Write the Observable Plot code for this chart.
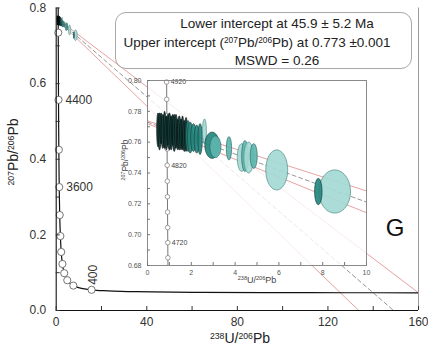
<!DOCTYPE html>
<html><head><meta charset="utf-8">
<script src="https://cdn.jsdelivr.net/npm/d3@7"></script>
<script src="https://cdn.jsdelivr.net/npm/@observablehq/plot@0.6"></script>
<style>
body{margin:0;background:#fff;}
#wrap{position:relative;width:428px;height:354px;font-family:"Liberation Sans",Arial,sans-serif;overflow:hidden;background:#fff;}
#wrap svg{position:absolute;overflow:visible;}
.lbl{position:absolute;white-space:nowrap;color:#222;line-height:1;}
.lbl sup{font-size:0.62em;vertical-align:0.5em;line-height:0;}
#box{position:absolute;left:115px;top:12px;width:297px;height:57px;border:1px solid #a8a8a8;border-radius:11px;box-sizing:border-box;}
</style></head><body><div id="wrap"></div>
<script>
// ---- Concordia (Tera-Wasserburg) points ----
const concordiaAge = [4950,4800,4600,4400,4200,4000,3800,3600,3200,3000,2800,2600,2400,2200,2000,1800,1600,1400,1200,1000,800,600,400,300,200,150,100,70,50,40];
const concordiaX = [0.866,0.9045,0.9604,1.0216,1.0888,1.1629,1.2453,1.3369,1.5557,1.6874,1.8383,2.0144,2.2168,2.4587,2.7491,3.1043,3.5497,4.1225,4.888,5.9588,7.568,10.252,15.62,20.99,31.73,42.48,63.97,91.59,128.43,160.66];
const concordiaY = [0.8161,0.7347,0.6393,0.5571,0.4863,0.4250,0.3721,0.3264,0.2524,0.2227,0.1968,0.1744,0.1548,0.1378,0.1230,0.1100,0.0987,0.0888,0.0801,0.0725,0.0658,0.0599,0.0547,0.0523,0.0501,0.0491,0.0480,0.0474,0.0470,0.0468];
const mainMarkerAges = [4800,4400,4000,3600,3200,2800,2400,2000,1600,1200,800,400];
const mainLabelAges = [4400,3600];
const mainRotLabelAges = [400];

// ---- Inset concordia segment ----
const insetAge = [4690,4700,4720,4740,4760,4780,4800,4820,4840,4860,4880,4900,4920,4950];
const insetCX = [0.9346,0.9318,0.9263,0.9207,0.9152,0.9098,0.9045,0.8992,0.8939,0.8888,0.8836,0.8783,0.8733,0.8657];
const insetCY = [0.6801,0.6850,0.6948,0.7046,0.7146,0.7246,0.7347,0.7450,0.7556,0.7663,0.7771,0.7878,0.7990,0.8161];
const insetMarkerAges = [4700,4720,4740,4760,4780,4800,4820,4840,4860,4880,4900,4920];
const insetLabelAges = [4920,4820,4720];

// ---- Analyses: error ellipses (centre, half-width, half-height, tone 0 dark .. 3 pale) ----
const ellX  = [0.48,0.55,0.62,0.70,0.78,0.86,0.93,1.00,1.08,1.15,1.22,1.30,1.38,1.45,1.53,1.60,1.68,1.76,1.85,1.95,2.10,2.25,2.40,2.60,2.95,3.10,3.72,4.30,4.45,4.62,4.85,5.90,8.55,7.80];
const ellY  = [0.768,0.767,0.769,0.767,0.768,0.766,0.768,0.767,0.766,0.768,0.766,0.767,0.765,0.766,0.765,0.766,0.764,0.765,0.764,0.763,0.763,0.762,0.762,0.767,0.758,0.757,0.756,0.750,0.751,0.750,0.751,0.742,0.728,0.728];
const ellRX = [0.06,0.07,0.06,0.08,0.06,0.07,0.06,0.08,0.07,0.06,0.08,0.07,0.06,0.08,0.07,0.06,0.08,0.07,0.10,0.12,0.13,0.12,0.10,0.09,0.33,0.25,0.12,0.20,0.15,0.22,0.16,0.50,0.72,0.17];
const ellRY = [0.011,0.012,0.010,0.011,0.012,0.011,0.010,0.012,0.011,0.010,0.012,0.011,0.010,0.011,0.010,0.011,0.010,0.011,0.010,0.010,0.009,0.009,0.010,0.008,0.0085,0.007,0.0075,0.009,0.010,0.010,0.008,0.013,0.014,0.0085];
const ellTone = [0,0,0,0,0,0,0,0,0,0,0,0,0,0,0,0,0,0,1,1,1,1,1,3,1,2,2,3,2,3,2,3,3,1];
const toneFill = ["#123f3b","#24877f","#5db6ae","#a4d9d4"];
const toneStroke = ["#050f0e","#173f3c","#2b6a65","#4f8c87"];

// ---- Discordia regression line and its error envelope ----
const discX = [0,149];      const discY = [0.773,0];
const envLowX = [0,133.6];  const envLowY = [0.772,0];
const envUpX = [0,160];     const envUpY = [0.7738,0.0468];

// ---- Axis ticks ----
const mainXTicks = [0,40,80,120,160];
const mainXMinor = [0,20,40,60,80,100,120,140,160];
const mainYTicks = [0,0.2,0.4,0.6,0.8];
const mainYMinor = [0,0.1,0.2,0.3,0.4,0.5,0.6,0.7,0.8];
const insetXTicks = [0,2,4,6,8,10];
const insetXMinor = [0,1,2,3,4,5,6,7,8,9,10];
const insetYTicks = [0.68,0.70,0.72,0.74,0.76,0.78,0.80];
const insetYMinor = [0.68,0.69,0.70,0.71,0.72,0.73,0.74,0.75,0.76,0.77,0.78,0.79,0.80];

// ---- derived tables ----
const conc = concordiaAge.map((a,i)=>({age:a,x:concordiaX[i],y:concordiaY[i]}));
const insetConc = insetAge.map((a,i)=>({age:a,x:insetCX[i],y:insetCY[i]}));
const ellPts = [];
ellX.forEach((cx,i)=>{
  for(let k=0;k<48;k++){
    const t = 2*Math.PI*k/48;
    ellPts.push({id:i, x:cx+ellRX[i]*Math.cos(t), y:ellY[i]+ellRY[i]*Math.sin(t),
      fill:toneFill[ellTone[i]], stroke:toneStroke[ellTone[i]]});
  }
});
const toPts = (xs,ys,id)=>xs.map((x,i)=>({id,x,y:ys[i]}));
const redLines = [...toPts(envLowX,envLowY,"low"),...toPts(envUpX,envUpY,"up")];
const dashLine = toPts(discX,discY,"c");

function discordiaMarks(){
  return [
    Plot.line(redLines,{x:"x",y:"y",z:"id",stroke:"#e08a8a",strokeWidth:0.8,clip:true}),
    Plot.line(dashLine,{x:"x",y:"y",stroke:"#8a8a8a",strokeWidth:0.9,strokeDasharray:"4,3",clip:true})
  ];
}
function ellipseMarks(sw){
  return Plot.line(ellPts,{x:"x",y:"y",z:"id",fill:"fill",stroke:"stroke",strokeWidth:sw,curve:"linear-closed",fillOpacity:0.92,clip:true});
}

const FONT = "Liberation Sans, Arial, sans-serif";
const mW=428,mH=354,mL=55.7,mR=10,mT=7.5,mB=44;
const main = Plot.plot({
  width:mW,height:mH,marginLeft:mL,marginRight:mR,marginTop:mT,marginBottom:mB,
  x:{domain:[0,160]}, y:{domain:[0,0.8]},
  style:{fontFamily:FONT,background:"transparent"},
  marks:[
    ...discordiaMarks(),
    Plot.line(conc,{x:"x",y:"y",stroke:"#111",strokeWidth:1.2,curve:"catmull-rom",clip:true}),
    Plot.dot(conc.filter(d=>mainMarkerAges.includes(d.age)),{x:"x",y:"y",r:3.6,fill:"white",stroke:"#666",strokeWidth:0.9}),
    ellipseMarks(0.6),
    Plot.text(conc.filter(d=>mainLabelAges.includes(d.age)),{x:"x",y:"y",text:d=>String(d.age),textAnchor:"start",dx:7,fontSize:12,fill:"#333"}),
    Plot.text(conc.filter(d=>mainRotLabelAges.includes(d.age)),{x:"x",y:"y",text:d=>String(d.age),textAnchor:"start",rotate:-90,dx:1.5,dy:-5,fontSize:12,fill:"#333"}),
    Plot.ruleX([160],{stroke:"#9a9a9a",strokeWidth:1}),
    Plot.ruleX([0],{stroke:"#111",strokeWidth:1.1}),
    Plot.ruleY([0],{stroke:"#111",strokeWidth:1.1}),
    Plot.tickX(mainXMinor,{x:d=>d,insetTop:(mH-mT-mB)-4,stroke:"#333"}),
    Plot.tickY(mainYMinor,{y:d=>d,insetRight:(mW-mL-mR)-4,stroke:"#333"}),
    Plot.axisX(mainXTicks,{tickSize:0,tickPadding:7,fontSize:12,fill:"#333",label:null,tickFormat:d3.format("d")}),
    Plot.axisY(mainYTicks,{tickSize:0,tickPadding:10,fontSize:12,fill:"#333",label:null,tickFormat:d3.format(".1f")})
  ]
});
main.style.left="0px"; main.style.top="0px";

// inset frame in page pixels: x 147..366, y 80..265
const iLeft=100,iTop=70,iW=290,iH=225;
const iL=47,iR=iW-(366-iLeft),iT=80-iTop,iB=iH-(265-iTop);
const inset = Plot.plot({
  width:iW,height:iH,marginLeft:iL,marginRight:iR,marginTop:iT,marginBottom:iB,
  x:{domain:[0,10]}, y:{domain:[0.68,0.80]},
  style:{fontFamily:FONT,background:"transparent"},
  marks:[
    Plot.frame({fill:"white",fillOpacity:0.78,stroke:null}),
    ...discordiaMarks(),
    Plot.line(insetConc,{x:"x",y:"y",stroke:"#777",strokeWidth:1,clip:true}),
    Plot.dot(insetConc.filter(d=>insetMarkerAges.includes(d.age)),{x:"x",y:"y",r:2.3,fill:"white",stroke:"#888",strokeWidth:0.8}),
    ellipseMarks(0.7),
    Plot.text(insetConc.filter(d=>insetLabelAges.includes(d.age)),{x:"x",y:"y",text:d=>String(d.age),textAnchor:"start",dx:4,fontSize:7,fill:"#444"}),
    Plot.frame({stroke:"#8a8a8a",strokeWidth:1}),
    Plot.tickX(insetXMinor,{x:d=>d,insetTop:(iH-iT-iB)-3,stroke:"#777"}),
    Plot.tickY(insetYMinor,{y:d=>d,insetRight:(iW-iL-iR)-3,stroke:"#777"}),
    Plot.axisX(insetXTicks,{tickSize:0,tickPadding:5,fontSize:7,fill:"#555",label:null,tickFormat:d3.format("d")}),
    Plot.axisY(insetYTicks,{tickSize:0,tickPadding:6,fontSize:7,fill:"#555",label:null,tickFormat:d3.format(".2f")})
  ]
});
inset.style.left=iLeft+"px"; inset.style.top=iTop+"px";

const wrap=document.getElementById("wrap");
wrap.appendChild(main);
wrap.appendChild(inset);

function addLabel(html, css){
  const d=document.createElement("div");
  d.className="lbl"; d.innerHTML=html; Object.assign(d.style,css); wrap.appendChild(d); return d;
}
const box=document.createElement("div"); box.id="box"; wrap.appendChild(box);
addLabel("Lower intercept at 45.9 ± 5.2 Ma",{left:"277px",top:"17px",fontSize:"13.5px",transform:"translateX(-50%)"});
addLabel("Upper intercept (<sup>207</sup>Pb/<sup>206</sup>Pb) at 0.773 ±0.001",{left:"257px",top:"36px",fontSize:"13.5px",transform:"translateX(-50%)"});
addLabel("MSWD = 0.26",{left:"277px",top:"54px",fontSize:"13.5px",transform:"translateX(-50%)"});
addLabel("G",{left:"395px",top:"216px",fontSize:"24px",transform:"translateX(-50%)",color:"#111"});
addLabel("<sup>238</sup>U/<sup>206</sup>Pb",{left:"240px",top:"331px",fontSize:"14px",transform:"translateX(-50%)"});
addLabel("<sup>207</sup>Pb/<sup>206</sup>Pb",{left:"13px",top:"152px",fontSize:"14px",transform:"translate(-50%,-50%) rotate(-90deg)"});
addLabel("<sup>238</sup>U/<sup>206</sup>Pb",{left:"257px",top:"276px",fontSize:"9px",transform:"translateX(-50%)",color:"#444"});
addLabel("<sup>207</sup>Pb/<sup>206</sup>Pb",{left:"125px",top:"160px",fontSize:"8.5px",transform:"translate(-50%,-50%) rotate(-90deg)",color:"#444"});
</script></body></html>
